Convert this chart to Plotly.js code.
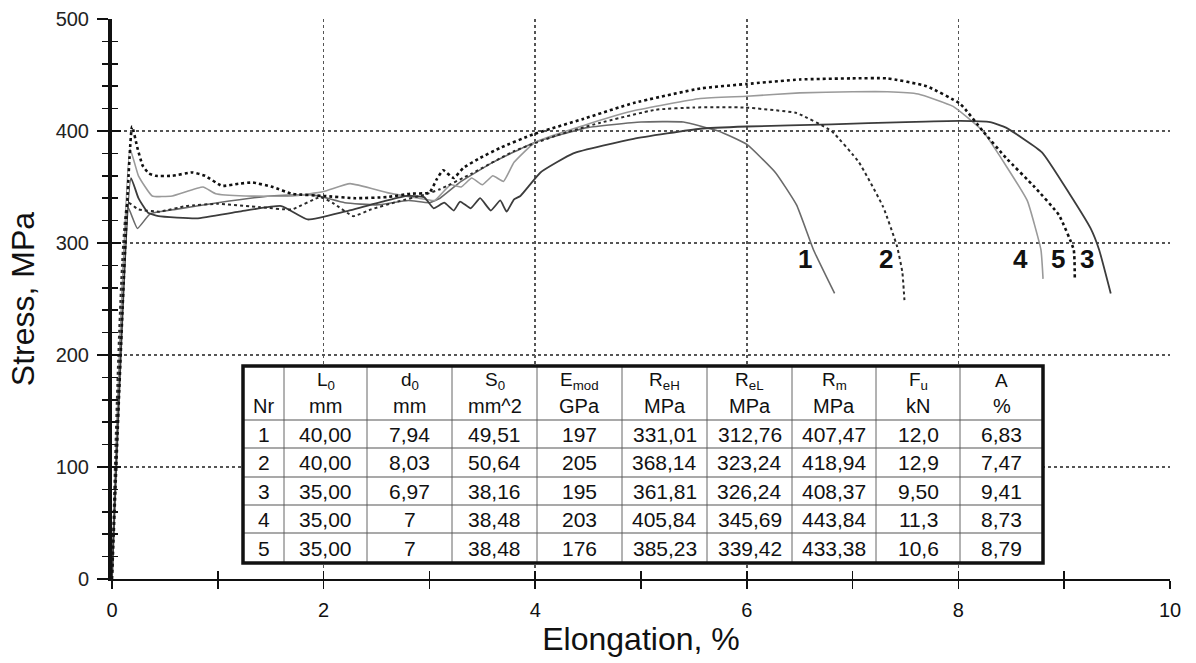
<!DOCTYPE html>
<html>
<head>
<meta charset="utf-8">
<script src="https://cdn.plot.ly/plotly-3.0.1.min.js"></script>
<style>
html,body{margin:0;padding:0;background:#fff;}
#chart{width:1196px;height:663px;}
</style>
</head>
<body>
<div id="chart"></div>
<script>
// ---- Curve data (Elongation %, Stress MPa) ----
const x5 = [0, 0.19, 0.24, 0.29, 0.35, 0.41, 0.57, 0.76, 0.88, 1.04, 1.2, 1.33, 1.52, 1.7, 2.0, 2.3, 2.6, 2.82, 3.0, 3.07, 3.13, 3.23, 3.32, 3.48, 3.67, 3.98, 4.46, 4.93, 5.56, 6.0, 6.5, 7.0, 7.33, 7.7, 8.02, 8.23, 8.45, 8.72, 8.95, 9.09, 9.1];
const y5 = [0, 404, 385, 369, 362, 360, 360, 363, 360, 351, 353, 354, 350, 344, 342, 340, 341, 344, 345, 357, 365, 358, 367, 376, 385, 397, 411, 425, 438, 442, 446, 447, 447, 440, 424, 400, 376, 350, 325, 294, 269];

const x4 = [0, 0.17, 0.25, 0.38, 0.57, 0.86, 0.98, 1.26, 1.71, 2.0, 2.25, 2.6, 2.9, 3.05, 3.2, 3.3, 3.4, 3.5, 3.6, 3.7, 3.8, 4.0, 4.46, 4.93, 5.56, 6.0, 6.5, 7.0, 7.33, 7.62, 7.95, 8.23, 8.45, 8.65, 8.78, 8.8];
const y4 = [0, 384, 360, 342, 342, 350, 344, 342, 342, 346, 353, 345, 340, 338, 352, 350, 358, 352, 360, 355, 372, 390, 405, 418, 429, 431, 434, 435, 435, 433, 422, 400, 369, 338, 294, 268];

const x3 = [0, 0.18, 0.25, 0.34, 0.44, 0.8, 1.2, 1.6, 1.85, 2.2, 2.6, 2.79, 2.95, 3.04, 3.14, 3.23, 3.29, 3.39, 3.48, 3.58, 3.67, 3.73, 3.8, 3.86, 4.05, 4.36, 4.93, 5.56, 6.0, 6.8, 7.5, 8.02, 8.3, 8.45, 8.79, 9.05, 9.25, 9.33, 9.44];
const y3 = [0, 358, 340, 327, 324, 322, 328, 333, 321, 328, 338, 342, 341, 331, 336, 329, 337, 331, 340, 329, 338, 328, 339, 342, 363, 380, 393, 402, 404, 406, 408, 409, 408, 403, 381, 344, 313, 294, 255];

const x2 = [0, 0.15, 0.25, 0.45, 0.7, 1.0, 1.4, 1.7, 1.97, 2.1, 2.28, 2.45, 2.7, 2.95, 3.1, 3.4, 3.8, 4.2, 4.6, 5.14, 5.5, 5.97, 6.47, 6.8, 7.06, 7.29, 7.42, 7.47, 7.49];
const y2 = [0, 336, 330, 328, 333, 335, 332, 330, 341, 335, 324, 330, 337, 343, 348, 362, 382, 396, 407, 419, 421, 421, 416, 400, 372, 332, 297, 274, 249];

const x1 = [0, 0.15, 0.24, 0.36, 0.6, 1.0, 1.5, 1.9, 2.2, 2.5, 2.8, 3.0, 3.1, 3.3, 3.6, 4.0, 4.49, 5.0, 5.4, 5.73, 6.0, 6.27, 6.47, 6.63, 6.83];
const y1 = [0, 332, 313, 326, 330, 336, 342, 343, 336, 334, 338, 336, 340, 355, 372, 390, 403, 408, 408, 400, 388, 363, 334, 294, 255];

// curve end labels
const labelText = ["1", "2", "4", "5", "3"];

// ---- Table data ----
const colNr   = ["1", "2", "3", "4", "5"];
const colL0   = ["40,00", "40,00", "35,00", "35,00", "35,00"];
const colD0   = ["7,94", "8,03", "6,97", "7", "7"];
const colS0   = ["49,51", "50,64", "38,16", "38,48", "38,48"];
const colEmod = ["197", "205", "195", "203", "176"];
const colReH  = ["331,01", "368,14", "361,81", "405,84", "385,23"];
const colReL  = ["312,76", "323,24", "326,24", "345,69", "339,42"];
const colRm   = ["407,47", "418,94", "408,37", "443,84", "433,38"];
const colFu   = ["12,0", "12,9", "9,50", "11,3", "10,6"];
const colA    = ["6,83", "7,47", "9,41", "8,73", "8,79"];
const headSymbols = ["", "L<sub>0</sub>", "d<sub>0</sub>", "S<sub>0</sub>", "E<sub>mod</sub>",
  "R<sub>eH</sub>", "R<sub>eL</sub>", "R<sub>m</sub>", "F<sub>u</sub>", "A"];
const headUnits = ["Nr", "mm", "mm", "mm^2", "GPa", "MPa", "MPa", "MPa", "kN", "%"];

const FONT = "Liberation Sans, Arial, Helvetica, sans-serif";

function curve(x, y, color, width, dash) {
  return {x: x, y: y, type: "scatter", mode: "lines", hoverinfo: "skip",
    line: {color: color, width: width, dash: dash, shape: "spline", smoothing: 0.4},
    xaxis: "x", yaxis: "y"};
}

const traces = [
  curve(x1, y1, "#6a6a6a", 1.6, "solid"),
  curve(x4, y4, "#9a9a9a", 1.6, "solid"),
  curve(x3, y3, "#3c3c3c", 1.8, "solid"),
  curve(x2, y2, "#2a2a2a", 2.0, "dot"),
  curve(x5, y5, "#111111", 2.6, "dot"),
  {x: [], y: [], type: "scatter", mode: "lines", xaxis: "x2", yaxis: "y", hoverinfo: "skip"},
  {x: [], y: [], type: "scatter", mode: "lines", xaxis: "x", yaxis: "y2", hoverinfo: "skip"}
];

// ---- layout geometry ----
const M = {l: 112, r: 26, t: 19, b: 84};
const W = 1196, H = 663;
const PW = W - M.l - M.r, PH = H - M.t - M.b;
const px2x = p => (p - M.l) / PW;
const py2y = p => (H - M.b - p) / PH;

const annotations = [];
const labelXpos = [6.55, 7.32, 8.59, 8.94, 9.22];
labelText.forEach((t, i) => annotations.push({
  x: labelXpos[i], y: 286, xref: "x", yref: "y", text: "<b>" + t + "</b>", showarrow: false,
  font: {family: FONT, size: 26, color: "#111"}
}));

// table built from the arrays
const colBounds = [243, 284, 367, 452, 537, 622, 707, 792, 876, 960, 1043];
const rowBounds = [366, 420, 448, 477, 505, 533, 563];
const tableCols = [colNr, colL0, colD0, colS0, colEmod, colReH, colReL, colRm, colFu, colA];
const shapes = [];
shapes.push({type: "rect", xref: "paper", yref: "paper",
  x0: px2x(colBounds[0]), x1: px2x(colBounds[colBounds.length - 1]),
  y0: py2y(rowBounds[rowBounds.length - 1]), y1: py2y(rowBounds[0]),
  line: {width: 0}, fillcolor: "#ffffff", layer: "above"});
for (let i = 1; i < colBounds.length - 1; i++) {
  shapes.push({type: "line", xref: "paper", yref: "paper",
    x0: px2x(colBounds[i]), x1: px2x(colBounds[i]), y0: py2y(rowBounds[rowBounds.length - 1]), y1: py2y(rowBounds[0]),
    line: {color: "#666", width: 1, dash: "solid"}, layer: "above"});
}
for (let j = 1; j < rowBounds.length - 1; j++) {
  shapes.push({type: "line", xref: "paper", yref: "paper",
    x0: px2x(colBounds[0]), x1: px2x(colBounds[colBounds.length - 1]), y0: py2y(rowBounds[j]), y1: py2y(rowBounds[j]),
    line: {color: "#555", width: 1.2}, layer: "above"});
}
shapes.push({type: "rect", xref: "paper", yref: "paper",
  x0: px2x(colBounds[0]), x1: px2x(colBounds[colBounds.length - 1]),
  y0: py2y(rowBounds[rowBounds.length - 1]), y1: py2y(rowBounds[0]),
  line: {color: "#111", width: 3.5}, fillcolor: "rgba(0,0,0,0)", layer: "above"});

for (let i = 0; i < tableCols.length; i++) {
  const cx = px2x((colBounds[i] + colBounds[i + 1]) / 2);
  if (headSymbols[i]) {
    annotations.push({x: cx, y: py2y(381), xref: "paper", yref: "paper", text: headSymbols[i],
      showarrow: false, xanchor: "center", yanchor: "middle", font: {family: FONT, size: 19, color: "#111"}});
  }
  annotations.push({x: cx, y: py2y(406), xref: "paper", yref: "paper", text: headUnits[i],
    showarrow: false, xanchor: "center", yanchor: "middle", font: {family: FONT, size: 20, color: "#111"}});
  tableCols[i].forEach((v, j) => {
    const cy = py2y((rowBounds[j + 1] + rowBounds[j + 2]) / 2);
    annotations.push({x: cx, y: cy, xref: "paper", yref: "paper", text: v,
      showarrow: false, xanchor: "center", yanchor: "middle", font: {family: FONT, size: 21, color: "#111"}});
  });
}

const gridStyle = {showgrid: true, gridcolor: "#555555", griddash: "dot", gridwidth: 1.5};

const layout = {
  width: W, height: H,
  margin: M,
  paper_bgcolor: "#ffffff", plot_bgcolor: "#ffffff",
  showlegend: false,
  font: {family: FONT, color: "#111"},
  xaxis: Object.assign({
    range: [0, 10], tick0: 0, dtick: 2, ticks: "outside", ticklen: 8, tickwidth: 1.5, tickcolor: "#111",
    minor: {dtick: 1, tick0: 0, ticks: "outside", ticklen: 8, tickwidth: 1.5, tickcolor: "#111", showgrid: false},
    showline: true, linecolor: "#111", linewidth: 2, zeroline: false,
    tickfont: {family: "Liberation Sans Narrow, " + FONT, size: 20, color: "#111"},
    ticklabelstandoff: 4,
    title: {text: "Elongation, %", font: {family: FONT, size: 32, color: "#111"}, standoff: 8},
    fixedrange: true
  }, gridStyle),
  xaxis2: {
    overlaying: "x", anchor: "y", side: "bottom", range: [0, 10], tick0: 0, dtick: 1,
    ticks: "inside", ticklen: 8, tickwidth: 1.5, tickcolor: "#111",
    showticklabels: false, showgrid: false, zeroline: false, showline: false, fixedrange: true
  },
  yaxis: Object.assign({
    range: [0, 500], tick0: 0, dtick: 100, ticks: "outside", ticklen: 11, tickwidth: 1.5, tickcolor: "#111",
    minor: {dtick: 20, tick0: 0, ticks: "outside", ticklen: 6, tickwidth: 1.5, tickcolor: "#111", showgrid: false},
    showline: true, linecolor: "#111", linewidth: 4, zeroline: false,
    tickfont: {family: FONT, size: 20, color: "#222"},
    ticklabelstandoff: 4,
    title: {text: "Stress, MPa", font: {family: FONT, size: 32, color: "#111"}, standoff: 12},
    fixedrange: true
  }, gridStyle),
  yaxis2: {
    overlaying: "y", anchor: "x", side: "left", range: [0, 500], tick0: 0, dtick: 100,
    ticks: "inside", ticklen: 9, tickwidth: 1.5, tickcolor: "#111",
    minor: {dtick: 20, tick0: 0, ticks: "inside", ticklen: 6, tickwidth: 1.5, tickcolor: "#111", showgrid: false},
    showticklabels: false, showgrid: false, zeroline: false, showline: false, fixedrange: true
  },
  annotations: annotations,
  shapes: shapes
};

Plotly.newPlot("chart", traces, layout, {displayModeBar: false, staticPlot: true});
</script>
</body>
</html>
